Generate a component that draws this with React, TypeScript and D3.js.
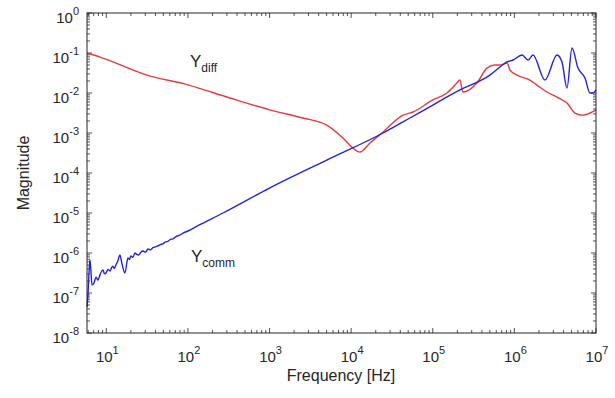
import React from "react";
import * as d3 from "d3";

const W = 615;
const H = 398;

// Y_diff (red) — frequency [Hz], magnitude
const diffFreq = [5.8, 8.4, 31.5, 100, 327, 1000, 2570, 5020, 7940, 10500, 12800, 17000, 24600, 43200, 57200, 100000, 149000, 198000, 215000, 234000, 347000, 461000, 578000, 667000, 812000, 883000, 1080000, 1550000, 1890000, 2510000, 3330000, 4410000, 5530000, 6930000, 8440000, 10000000];
const diffMag = [0.1, 0.079, 0.028, 0.016, 0.0075, 0.0038, 0.00237, 0.00158, 0.00075, 0.00042, 0.000335, 0.00056, 0.00106, 0.0028, 0.00335, 0.0067, 0.01, 0.0178, 0.0211, 0.0106, 0.0178, 0.042, 0.05, 0.05, 0.056, 0.0376, 0.028, 0.021, 0.0158, 0.0106, 0.0079, 0.0056, 0.00316, 0.0028, 0.00316, 0.0038];

// Y_comm (blue)
const commFreq = [5.8, 5.96, 6.12, 6.3, 6.47, 6.67, 7.06, 7.47, 7.9, 8.35, 8.7, 9.1, 9.5, 9.9, 10.5, 11.1, 11.6, 12.0, 12.5, 13.1, 13.8, 14.7, 15.5, 16.9, 18.4, 19.2, 20, 21.2, 22.4, 23.6, 25, 26.5, 28.1, 30.2, 32.4, 34.7, 37.2, 40, 42.8, 46, 49.4, 53, 56.9, 61, 65.5, 72, 79.5, 88, 97, 140, 269, 1000, 5020, 24600, 52500, 100000, 215000, 500000, 667000, 812000, 962000, 1240000, 1470000, 1690000, 2370000, 3330000, 3830000, 4410000, 5080000, 6020000, 7330000, 8440000, 9200000, 10000000];
const commMag = [4.5e-8, 8.9e-8, 2.8e-7, 6.7e-7, 3.76e-7, 1.58e-7, 1.78e-7, 2.5e-7, 2.1e-7, 2.8e-7, 3.4e-7, 3.76e-7, 3.0e-7, 3.16e-7, 3.9e-7, 3.55e-7, 4.3e-7, 4.7e-7, 4.1e-7, 5e-7, 6.2e-7, 8.9e-7, 5.6e-7, 3.16e-7, 7.5e-7, 6.9e-7, 8.4e-7, 7.8e-7, 1e-6, 9.2e-7, 8.9e-7, 1.05e-6, 1.12e-6, 1.05e-6, 1.26e-6, 1.2e-6, 1.36e-6, 1.42e-6, 1.5e-6, 1.62e-6, 1.7e-6, 1.9e-6, 1.95e-6, 2.2e-6, 2.25e-6, 2.6e-6, 2.8e-6, 3.2e-6, 3.45e-6, 5.1e-6, 1e-5, 4.2e-5, 2.1e-4, 1e-3, 2.37e-3, 5e-3, 0.0119, 0.028, 0.0447, 0.0596, 0.0668, 0.089, 0.0668, 0.089, 0.0211, 0.089, 0.0596, 0.0133, 0.133, 0.042, 0.0237, 0.01, 0.01, 0.0119];

const xTickExps = [1, 2, 3, 4, 5, 6, 7];
const yTickExps = [0, -1, -2, -3, -4, -5, -6, -7, -8];

const xLabel = "Frequency [Hz]";
const yLabel = "Magnitude";

export default function App() {
  const left = 87, right = 596, top = 13, bottom = 333;
  const x = d3.scaleLog().domain([5.8, 1e7]).range([left, right]);
  const y = d3.scaleLog().domain([1e-8, 1]).range([bottom, top]);

  const mk = (fs: number[], ms: number[]) =>
    d3
      .line<number>()
      .x((_, i) => x(fs[i]))
      .y((_, i) => y(ms[i]))
      .curve(d3.curveMonotoneX)(fs);

  const font = "'Liberation Sans', Arial, sans-serif";
  const tc = "#262626";

  const xMinor: number[] = [];
  for (let e = 0; e <= 7; e++) {
    for (let k = 1; k <= 9; k++) {
      const v = k * Math.pow(10, e);
      if (v >= 5.8 && v <= 1e7) xMinor.push(v);
    }
  }
  const yMinor: number[] = [];
  for (let e = -8; e <= 0; e++) {
    for (let k = 1; k <= 9; k++) {
      const v = k * Math.pow(10, e);
      if (v >= 1e-8 && v <= 1) yMinor.push(v);
    }
  }

  return (
    <svg width={W} height={H} style={{ position: "absolute", left: 0, top: 0, background: "#fff" }}>
      <rect x={0} y={0} width={W} height={H} fill="#fff" />
      {xMinor.map((v, i) => {
        const major = Math.abs(Math.log10(v) - Math.round(Math.log10(v))) < 1e-9;
        const len = major ? 5 : 3;
        return (
          <g key={"xm" + i} stroke={tc} strokeWidth={0.8}>
            <line x1={x(v)} x2={x(v)} y1={bottom} y2={bottom - len} />
            <line x1={x(v)} x2={x(v)} y1={top} y2={top + len} />
          </g>
        );
      })}
      {yMinor.map((v, i) => {
        const major = Math.abs(Math.log10(v) - Math.round(Math.log10(v))) < 1e-9;
        const len = major ? 5 : 3;
        return (
          <g key={"ym" + i} stroke={tc} strokeWidth={0.8}>
            <line x1={left} x2={left + len} y1={y(v)} y2={y(v)} />
            <line x1={right} x2={right - len} y1={y(v)} y2={y(v)} />
          </g>
        );
      })}
      <path d={mk(diffFreq, diffMag) || ""} fill="none" stroke="#e8393b" strokeWidth={1.4} />
      <path d={mk(commFreq, commMag) || ""} fill="none" stroke="#2222dd" strokeWidth={1.4} />
      <rect x={left} y={top} width={right - left} height={bottom - top} fill="none" stroke={tc} strokeWidth={1} />
      {xTickExps.map((e) => (
        <text key={"xt" + e} x={x(Math.pow(10, e)) + 1} y={362} textAnchor="middle" fontFamily={font} fontSize={15} fill={tc}>
          10<tspan dy={-8} fontSize={11}>{e}</tspan>
        </text>
      ))}
      {yTickExps.map((e) => (
        <text key={"yt" + e} x={79} y={y(Math.pow(10, e)) + 10} textAnchor="end" fontFamily={font} fontSize={15} fill={tc}>
          10<tspan dy={-8} fontSize={11}>{e}</tspan>
        </text>
      ))}
      <text x={341} y={381} textAnchor="middle" fontFamily={font} fontSize={16} fill={tc}>
        {xLabel}
      </text>
      <text transform={`translate(29,${(top + bottom) / 2}) rotate(-90)`} textAnchor="middle" fontFamily={font} fontSize={16} fill={tc}>
        {yLabel}
      </text>
      <text x={190} y={67} fontFamily={font} fontSize={17} fill={tc}>
        Y<tspan dy={5} fontSize={12}>diff</tspan>
      </text>
      <text x={191} y={262} fontFamily={font} fontSize={17} fill={tc}>
        Y<tspan dy={5} fontSize={12}>comm</tspan>
      </text>
    </svg>
  );
}
